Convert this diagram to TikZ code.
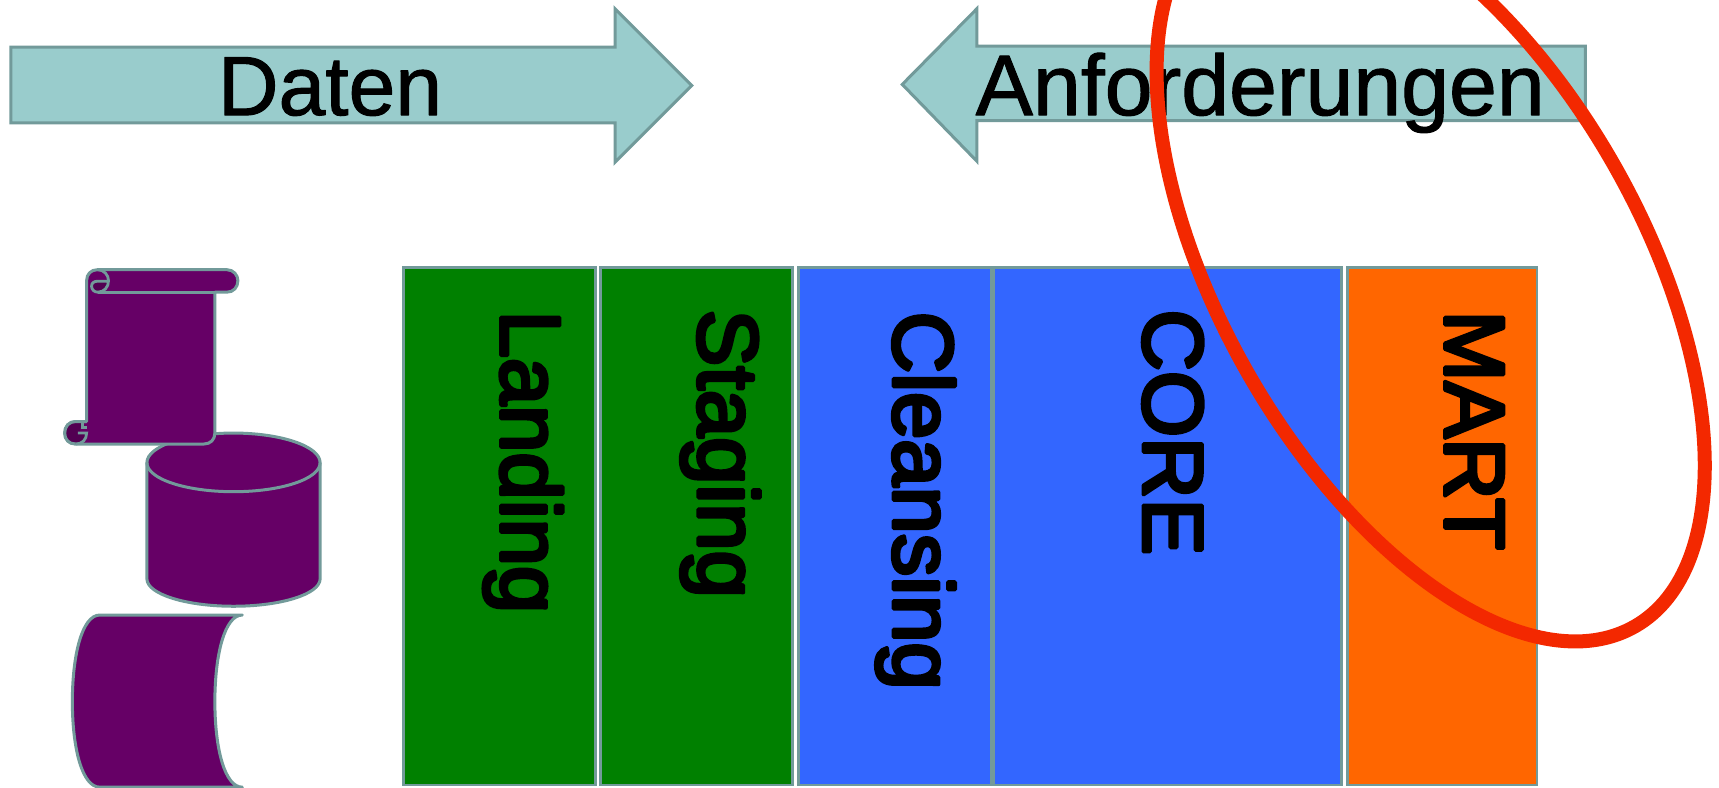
\documentclass[tikz,border=0pt]{standalone}
\usepackage{fontspec}
\setmainfont{Liberation Sans}
\newfontfamily\heavyfont[FakeBold=4.5]{Liberation Sans}
\newfontfamily\semifont[FakeBold=1.2]{Liberation Sans}
\definecolor{edgecol}{HTML}{729A9A}
\definecolor{arrowfill}{HTML}{99CCCC}
\definecolor{plum}{HTML}{660066}
\definecolor{darkplum}{HTML}{520052}
\definecolor{leaf}{HTML}{008000}
\definecolor{azure}{HTML}{3366FF}
\definecolor{tangerine}{HTML}{FF6600}
\definecolor{signal}{HTML}{F32800}
\tikzset{
  bigarrow/.style={draw=edgecol,fill=arrowfill,line width=1.5pt,line join=miter},
  layerbox/.style={draw=edgecol,line width=1.4pt},
  storeshape/.style={draw=edgecol,fill=plum,line width=1.5pt,line join=round},
  curl/.style={draw=edgecol,line width=1.4pt},
  headtext/.style={font=\fontsize{42}{42}\selectfont\semifont,inner sep=0pt,anchor=base},
  sidetext/.style={font=\fontsize{42.5}{42}\selectfont\heavyfont,inner sep=0pt,anchor=base west,rotate=-90},
}
\begin{document}
\begin{tikzpicture}[x=0.548pt,y=-0.548pt]
\useasboundingbox (0,0) rectangle (1568,718);
% arrows
\draw[bigarrow] (10,43) -- (561,43) -- (561,8) -- (631,78) -- (561,148) -- (561,112) -- (10,112) -- cycle;
\draw[bigarrow] (1446,42) -- (891,42) -- (891,8) -- (823,77) -- (891,147) -- (891,110) -- (1446,110) -- cycle;
\begin{scope}[line join=round]
\node[headtext] (daten) at (301,105) {Daten};
\node[headtext,font=\fontsize{43}{43}\selectfont\semifont] (anf) at (1149.5,105) {Anforderungen};
\end{scope}
% layers
\draw[layerbox,fill=leaf] (368,244) rectangle (543,716);
\draw[layerbox,fill=leaf] (548,244) rectangle (723,716);
\draw[layerbox,fill=azure] (728,244) rectangle (904,716);
\draw[layerbox,fill=azure] (906,244) rectangle (1224,716);
\draw[layerbox,fill=tangerine] (1229,244) rectangle (1402,716);
\begin{scope}[line join=round]
\node[sidetext] (landing) at (457,283) {Landing};
\node[sidetext] (staging) at (637,282) {Staging};
\node[sidetext] (cleansing) at (815,284) {Cleansing};
\node[sidetext] (core) at (1043,282) {CORE};
\node[sidetext] (mart) at (1318,283) {MART};
\end{scope}
% cylinder
\draw[storeshape] (134,422) -- (134,528) .. controls (134,542) and (170,553) .. (213,553) .. controls (256,553) and (292,542) .. (292,528) -- (292,422) .. controls (292,407) and (256,395) .. (213,395) .. controls (170,395) and (134,407) .. (134,422) -- cycle;
\draw[storeshape,fill=none] (134,422) .. controls (134,437) and (170,448.5) .. (213,448.5) .. controls (256,448.5) and (292,437) .. (292,422);
% scroll
\draw[storeshape] (79,256) .. controls (79,250) and (83,246) .. (89,246) -- (207,246) .. controls (213,246) and (217,251) .. (217,256) .. controls (217,262) and (213,266.5) .. (207,266.5) -- (196,266.5) -- (196,395) .. controls (196,401) and (192,405) .. (186,405) -- (69,405) .. controls (63,405) and (59,401) .. (59,395) .. controls (59,389) and (63,384.5) .. (69,384.5) -- (79,384.5) -- cycle;
% scroll curls
\fill[darkplum] (84,261) .. controls (84,258) and (86,257) .. (89,257) -- (99,257) .. controls (98,263) and (94,266.5) .. (89,266.5) .. controls (86,266.5) and (84,264) .. (84,261) -- cycle;
\draw[curl] (89,246) .. controls (95,246) and (99,251) .. (99,256) .. controls (99,262) and (95,266.5) .. (89,266.5) .. controls (86,266.5) and (83.5,264) .. (83.5,261) .. controls (83.5,258) and (86,256.5) .. (89,256.5) -- (99,256.5);
\draw[curl] (89,266.5) -- (196,266.5);
\fill[darkplum] (60,395) .. controls (60,389) and (64,385) .. (70,385) .. controls (74,385) and (77,387) .. (78,390) -- (73,390) -- (73,395) -- (79,395) .. controls (79,401) and (75,405) .. (69,405) .. controls (64,405) and (60,401) .. (60,395) -- cycle;
\draw[curl] (69,405) .. controls (75,405) and (79,401) .. (79,395) -- (71,395);
\draw[curl] (79,390) -- (75,390) -- (75,386);
\draw[storeshape,fill=none] (69,405) .. controls (63,405) and (59,401) .. (59,395) .. controls (59,389) and (63,384.5) .. (69,384.5) -- (79,384.5);
% stored data shape
\draw[storeshape] (221,561) -- (91,561) .. controls (75,561) and (66,597) .. (66,640) .. controls (66,683) and (75,718) .. (91,718) -- (221,718) .. controls (205,718) and (196,683) .. (196,640) .. controls (196,597) and (205,561) .. (221,561) -- cycle;
% ellipse
\draw[signal,line width=7pt] (1305,245) ellipse [x radius=375.8,y radius=192.1,rotate=-60.3];
\end{tikzpicture}
\end{document}
